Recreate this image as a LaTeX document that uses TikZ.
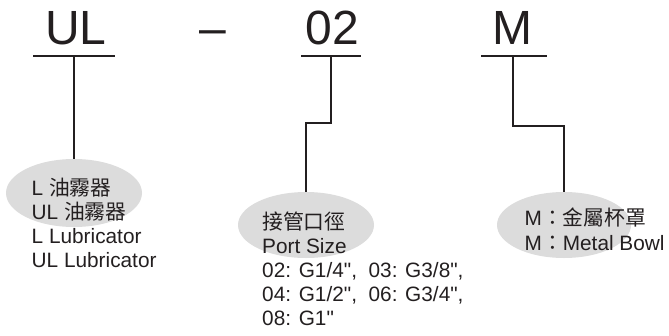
\documentclass[tikz,border=0pt]{standalone}
\usepackage{fontspec}
\setmainfont{Liberation Sans}[Ligatures=TeXOff]
\newfontfamily\cjk{Noto Sans CJK TC}
\usetikzlibrary{shapes.geometric}
\definecolor{ink}{HTML}{231F20}
\definecolor{oval}{HTML}{DCDCDC}
\tikzset{
  big/.style={inner sep=0pt, anchor=base, text=ink, font=\fontsize{48}{48}\selectfont},
  txt/.style={inner sep=0pt, anchor=base west, text=ink, font=\fontsize{20.8}{24}\selectfont},
  bubble/.style={ellipse, fill=oval, draw=none, inner sep=0pt},
  wire/.style={draw=ink, line width=1.2pt},
  bar/.style={draw=ink, line width=1.4pt}
}
\begin{document}
\begin{tikzpicture}[x=1pt,y=1pt]
\useasboundingbox (0,0) rectangle (669,-335);
% ovals
\node[bubble, minimum width=136pt, minimum height=68pt] (e1) at (74,-193) {};
\node[bubble, minimum width=136pt, minimum height=66pt] (e2) at (306,-225) {};
\node[bubble, minimum width=134pt, minimum height=66pt] (e3) at (564,-225) {};
% top code
\node[big] (tUL) at (76,-44) {UL};
\node[big] (tdash) at (213,-44) {–};
\node[big] (t02) at (332.5,-44) {02};
\node[big] (tM) at (512.5,-44) {M};
% underlines
\coordinate (u1l) at (33,-56); \coordinate (u1r) at (115,-56); \coordinate (u1m) at (74,-56);
\coordinate (u2l) at (301,-56); \coordinate (u2r) at (361,-56); \coordinate (u2m) at (331,-56);
\coordinate (u3l) at (481,-56); \coordinate (u3r) at (547,-56); \coordinate (u3m) at (513,-56);
\draw[bar] (u1l) -- (u1r);
\draw[bar] (u2l) -- (u2r);
\draw[bar] (u3l) -- (u3r);
% connectors
\coordinate (j2) at (0,-123);
\coordinate (j3) at (0,-126);
\draw[wire] (u1m) -- (e1.north);
\draw[wire] (u2m) |- (j2 -| e2.north) -- (e2.north);
\draw[wire] (u3m) |- (j3 -| e3.north) -- (e3.north);
% left block
\node[txt] (a1) at (31.5,-195) {L {\cjk 油霧器}};
\node[txt] (a2) at (31.5,-219) {UL {\cjk 油霧器}};
\node[txt] (a3) at (31.5,-243) {L Lubricator};
\node[txt] (a4) at (31.5,-267) {UL Lubricator};
% middle block
\node[txt] (b1) at (262,-229) {\cjk 接管口徑};
\node[txt] (b2) at (262,-253) {Port Size};
\node[txt] (b3) at (262,-277) {02: G1/4",\ \ 03: G3/8",};
\node[txt] (b4) at (262,-301) {04: G1/2",\ \ 06: G3/4",};
\node[txt] (b5) at (262,-325) {08: G1"};
% right block
\node[txt] (c1) at (524.5,-225) {M{\cjk ：金屬杯罩}};
\node[txt] (c2) at (524.5,-250) {M{\cjk ：}Metal Bowl};
\end{tikzpicture}
\end{document}
